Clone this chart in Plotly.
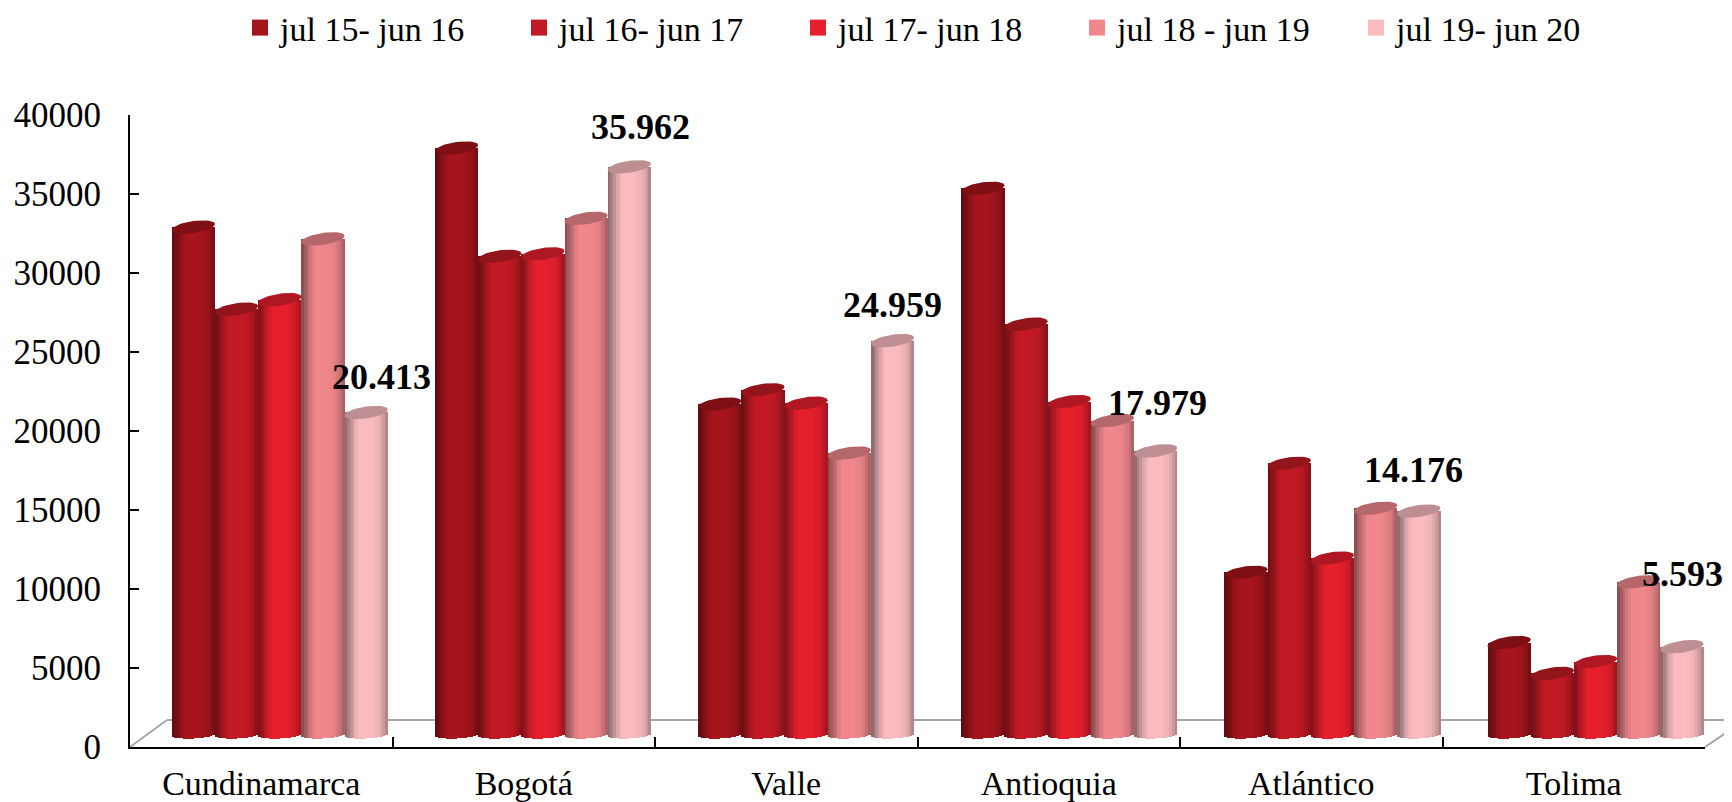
import numpy as np
import plotly.graph_objects as go

categories = ["Cundinamarca", "Bogotá", "Valle", "Antioquia", "Atlántico", "Tolima"]
series_names = ["jul 15- jun 16", "jul 16- jun 17", "jul 17- jun 18", "jul 18 - jun 19", "jul 19- jun 20"]
s1 = [32150, 37150, 20950, 34600, 10300, 5850]
s2 = [26950, 30300, 21850, 26000, 17200, 3900]
s3 = [27550, 30450, 21000, 21100, 11200, 4650]
s4 = [31400, 32700, 17850, 19900, 14350, 9700]
s5 = [20413, 35962, 24959, 17979, 14176, 5593]
series = [s1, s2, s3, s4, s5]
label_texts = ["20.413", "35.962", "24.959", "17.979", "14.176", "5.593"]

colors = [(166, 20, 28), (194, 26, 36), (230, 31, 45), (239, 135, 140), (249, 187, 192)]
shade = [0.58, 0.68, 0.78, 0.88, 0.95, 1.0, 1.0, 1.0, 1.0, 1.0, 0.99, 0.97, 0.95, 0.9, 0.82, 0.72]

OFF = 8  # default page margin around the figure
W, H = 1732 - OFF, 802 - OFF
L, R, T, B = 130 - OFF, 1705 - OFF, 115 - OFF, 747 - OFF
PX = 40000 / (B - T)         # value units per pixel
CATPX = (R - L) / 6
BASE = 12 * PX               # bars stand 12 px above the axis (3D floor)
BAR_W = 43.2 / CATPX
SHIFT = 18.5 / CATPX
DRIFT = 0.0025               # perspective drift of the clusters per category
N = len(shade)


def rgb(c, f):
    return "rgb(%d,%d,%d)" % tuple(min(255, int(round(v * f))) for v in c)


fig = go.Figure()
for si, vals in enumerate(series):
    left = SHIFT - 2.5 * BAR_W + si * BAR_W
    for k in range(N):
        u = (k + 0.5) / N * 2 - 1
        slice_base = BASE - (3.5 * np.sqrt(1 - u * u) - 1.0 * u) * PX
        fig.add_trace(go.Bar(
            x=[i + DRIFT * i for i in range(6)],
            y=[v + BASE - slice_base for v in vals],
            base=[slice_base] * 6,
            offset=left + k * BAR_W / N,
            width=BAR_W / N * 1.06,
            marker=dict(color=rgb(colors[si], shade[k]), line=dict(width=0)),
            showlegend=False,
            hoverinfo="skip",
        ))
    t = np.linspace(0, 2 * np.pi, 49)
    for ci, v in enumerate(vals):
        xc = ci + DRIFT * ci + left + BAR_W / 2
        fig.add_trace(go.Scatter(
            x=xc + BAR_W / 2 * np.cos(t),
            y=v + BASE + (6 * np.sin(t) + 3 * np.cos(t)) * PX,
            mode="lines", fill="toself",
            fillcolor=rgb(colors[si], 0.76),
            line=dict(width=0), showlegend=False, hoverinfo="skip",
        ))

# legend entries
for si, name in enumerate(series_names):
    fig.add_trace(go.Scatter(
        x=[None], y=[None], mode="markers", name=name,
        marker=dict(symbol="square", size=16, color=rgb(colors[si], 1.0)),
        hoverinfo="skip",
    ))

# value labels on the last series
xoff = [15, 11, 0, 2, -5, 1]
yoff = [35, 40, 36, 48, 41, 73]
for i, txt in enumerate(label_texts):
    fig.add_annotation(
        x=i + DRIFT * i + SHIFT + 2 * BAR_W, y=s5[i] + BASE, xref="x", yref="y",
        text="<b>%s</b>" % txt, showarrow=False, xshift=xoff[i], yshift=yoff[i],
        font=dict(family="Liberation Serif", size=36, color="black"),
    )


def px(v):
    return (v - OFF - L) / (R - L)


def py(v):
    return (B - (v - OFF)) / (B - T)


# 3D floor outline
for (x0, y0, x1, y1) in [(130, 747, 167, 720), (167, 720, 1745, 720), (1705, 747, 1745, 720)]:
    fig.add_shape(type="line", xref="paper", yref="paper", layer="below",
                  x0=px(x0), y0=py(y0), x1=px(x1), y1=py(y1),
                  line=dict(color="#A6A6A6", width=2))

fig.update_layout(
    width=W, height=H, autosize=False,
    margin=dict(l=L, r=W - R, t=T, b=H - B, pad=0, autoexpand=False),
    paper_bgcolor="white", plot_bgcolor="rgba(0,0,0,0)",
    barmode="overlay", bargap=0,
    font=dict(family="Liberation Serif", size=34, color="black"),
    showlegend=True,
    legend=dict(orientation="h", xref="container", yref="container",
                x=(240 - OFF) / W, y=1 - (28 - OFF) / H, xanchor="left", yanchor="middle",
                entrywidth=234, entrywidthmode="pixels", traceorder="normal",
                itemsizing="trace",
                font=dict(size=34), itemclick=False, itemdoubleclick=False,
                bgcolor="rgba(0,0,0,0)"),
    xaxis=dict(range=[-0.5, 5.5], tickmode="array", tickvals=list(range(6)),
               ticktext=categories, ticks="", showgrid=False, zeroline=False,
               showline=True, linecolor="black", linewidth=2, automargin=False,
               tickfont=dict(size=34), ticklabelstandoff=5),
    xaxis2=dict(range=[-0.5, 5.5], overlaying="x", matches="x", tickmode="array",
                tickvals=[i - 0.5 for i in range(7)], ticktext=[""] * 7,
                ticks="inside", ticklen=10, tickwidth=2, tickcolor="black",
                automargin=False, showgrid=False, zeroline=False, side="bottom"),
    yaxis=dict(range=[0, 40000], tickmode="array", tickvals=list(range(0, 40001, 5000)),
               ticktext=[str(v) for v in range(0, 40001, 5000)],
               ticks="inside", ticklen=9, tickwidth=2, tickcolor="black",
               showgrid=False, zeroline=False, showline=True, linecolor="black",
               automargin=False, linewidth=2, tickfont=dict(size=35), ticklabelstandoff=20),
)
fig.add_trace(go.Scatter(x=[None], y=[None], xaxis="x2", showlegend=False, hoverinfo="skip"))
fig.write_html("out.html")
